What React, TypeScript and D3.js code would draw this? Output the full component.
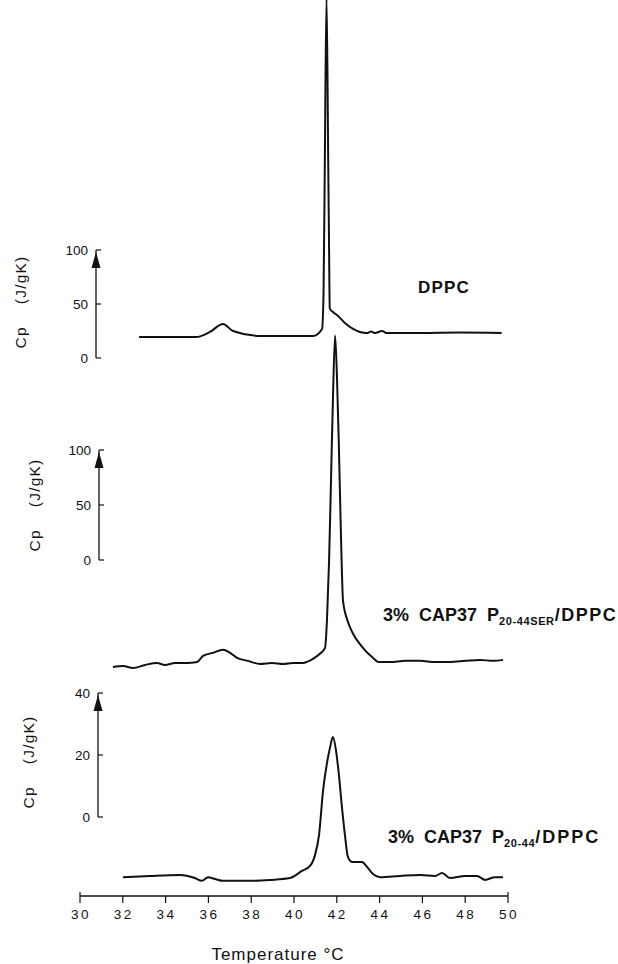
import React from 'react';
import * as d3 from 'd3';

// temperature (°C), Cp (J/gK)
const dppc: [number, number][] = [
  [32.76, 19.4], [35.42, 19.4], [36.07, 24.1], [36.68, 31.5], [37.15, 25.0], [38.41, 20.4],
  [40.89, 20.4], [41.31, 26.9], [41.38, 60], [41.44, 180], [41.52, 335], [41.60, 180],
  [41.64, 100], [41.67, 46], [41.82, 42.6], [42.01, 39.8], [42.38, 32.4], [42.76, 26.9],
  [43.08, 24.1], [43.41, 23.1], [43.60, 24.5], [43.79, 23.1], [44.11, 25.0], [44.35, 23.1],
  [45.89, 23.1], [47.76, 23.5], [49.70, 23.1]
];

const cap37Ser: [number, number][] = [
  [31.54, -97.2], [32.01, -96.3], [32.48, -98.2], [33.04, -95.4], [33.6, -93.6], [33.97, -95.4],
  [34.44, -93.6], [35.0, -93.6], [35.47, -92.7], [35.75, -87.2], [36.21, -84.4], [36.68, -81.7],
  [37.01, -84.4], [37.34, -89.0], [37.85, -91.7], [38.41, -94.5], [38.97, -93.6], [39.49, -94.5],
  [39.95, -93.6], [40.42, -93.6], [40.89, -89.9], [41.21, -85.3], [41.45, -79.8], [41.54, -55],
  [41.64, 0], [41.73, 73], [41.82, 147], [41.92, 204], [42.01, 165], [42.1, 101], [42.2, 18],
  [42.29, -37], [42.5, -55], [42.76, -67], [43.1, -77], [43.41, -84], [43.7, -89], [43.93, -92.7],
  [44.49, -92.7], [45.2, -91.7], [45.89, -91.7], [46.6, -92.7], [47.29, -92.7], [48.0, -91.7],
  [48.69, -90.8], [49.3, -91.7], [49.77, -90.8]
];

const cap37: [number, number][] = [
  [32.01, -19.4], [33.27, -19.0], [34.67, -18.7], [35.37, -19.7], [35.7, -20.6], [35.98, -19.4],
  [36.31, -20.0], [36.68, -20.6], [37.94, -20.6], [38.88, -20.3], [39.81, -19.7], [40.37, -17.4],
  [40.75, -15.8], [40.98, -12.3], [41.17, -5.8], [41.36, 8.7], [41.54, 17.4], [41.68, 22.3],
  [41.82, 25.8], [41.96, 21.6], [42.1, 13.5], [42.24, 3.2], [42.38, -5.8], [42.52, -12.9],
  [42.71, -14.5], [43.17, -14.5], [43.46, -16.5], [43.69, -18.4], [44.02, -19.4], [44.95, -19.0],
  [45.89, -18.7], [46.59, -19.0], [46.92, -18.1], [47.29, -19.7], [47.99, -19.0], [48.55, -19.0],
  [48.93, -20.3], [49.39, -19.4], [49.77, -19.4]
];

const xTicks = [30, 32, 34, 36, 38, 40, 42, 44, 46, 48, 50];
const topTicks = [0, 50, 100];
const midTicks = [0, 50, 100];
const botTicks = [0, 20, 40];

const FONT = '"Liberation Sans", Arial, Helvetica, sans-serif';
const INK = '#111';

const x = d3.scaleLinear().domain([30, 50]).range([80, 508]);

function YAxis({ scale, ticks, ax, labelX, labelY }) {
  const y0 = scale(ticks[0]);
  const y1 = scale(ticks[ticks.length - 1]);
  return (
    <g>
      <line x1={ax} x2={ax} y1={y0} y2={y1} stroke={INK} strokeWidth={1.3} />
      {ticks.map(t => (
        <g key={t}>
          <line x1={ax} x2={ax + 5} y1={scale(t)} y2={scale(t)} stroke={INK} strokeWidth={1.2} />
          <text x={ax - 8} y={scale(t)} dy="0.35em" textAnchor="end" fontSize={13.5} fill={INK}>{t}</text>
        </g>
      ))}
      <polygon points={`${ax},${y1 + 2} ${ax - 4.5},${y1 + 18} ${ax + 4.5},${y1 + 18}`} fill={INK} />
      <text transform={`translate(${labelX},${labelY}) rotate(-90)`} textAnchor="middle"
        fontSize={15.5} letterSpacing={1.2} fill={INK} style={{ whiteSpace: 'pre' }}>{'Cp    (J/gK)'}</text>
    </g>
  );
}

function Trace({ data, scale }) {
  const line = d3.line<[number, number]>().x(d => x(d[0])).y(d => scale(d[1])).curve(d3.curveMonotoneX);
  return <path d={line(data) || ''} fill="none" stroke={INK} strokeWidth={2} strokeLinejoin="round" />;
}

export default function App() {
  const yTop = d3.scaleLinear().domain([0, 100]).range([358, 250]);
  const yMid = d3.scaleLinear().domain([0, 100]).range([560, 450]);
  const yBot = d3.scaleLinear().domain([0, 40]).range([817, 693]);

  return (
    <svg width={618} height={964} style={{ position: 'absolute', left: 0, top: 0, background: '#fff' }}
      fontFamily={FONT}>
      <rect width={618} height={964} fill="#fff" />

      <YAxis scale={yTop} ticks={topTicks} ax={96} labelX={26} labelY={302} />
      <YAxis scale={yMid} ticks={midTicks} ax={99} labelX={40} labelY={505} />
      <YAxis scale={yBot} ticks={botTicks} ax={98} labelX={34} labelY={762} />

      <Trace data={dppc} scale={yTop} />
      <Trace data={cap37Ser} scale={yMid} />
      <Trace data={cap37} scale={yBot} />

      <text x={418} y={293} fontSize={17} fontWeight="bold" letterSpacing={1.2} fill={INK}>DPPC</text>
      <text x={383} y={621} fontSize={18} fontWeight="bold" wordSpacing={5} fill={INK}>
        3% CAP37 P<tspan fontSize={11} dy={4} letterSpacing={0.6}>20-44SER</tspan>
        <tspan dy={-4} letterSpacing={1.5}>/DPPC</tspan>
      </text>
      <text x={388} y={843} fontSize={18} fontWeight="bold" wordSpacing={5} fill={INK}>
        3% CAP37 P<tspan fontSize={11} dy={4} letterSpacing={0.6}>20-44</tspan>
        <tspan dy={-4} letterSpacing={2}>/DPPC</tspan>
      </text>

      {/* temperature axis */}
      <g>
        <line x1={x(30)} x2={x(50)} y1={896} y2={896} stroke={INK} strokeWidth={1.3} />
        {xTicks.map(t => (
          <g key={t}>
            <line x1={x(t)} x2={x(t)} y1={t === 30 || t === 50 ? 892 : 896} y2={903} stroke={INK} strokeWidth={1.2} />
            <text x={x(t) + 1} y={919} textAnchor="middle" fontSize={13.5} letterSpacing={2.5} fill={INK}>{t}</text>
          </g>
        ))}
        <text x={278} y={960} textAnchor="middle" fontSize={17} letterSpacing={1} fill={INK}>Temperature °C</text>
      </g>
    </svg>
  );
}
